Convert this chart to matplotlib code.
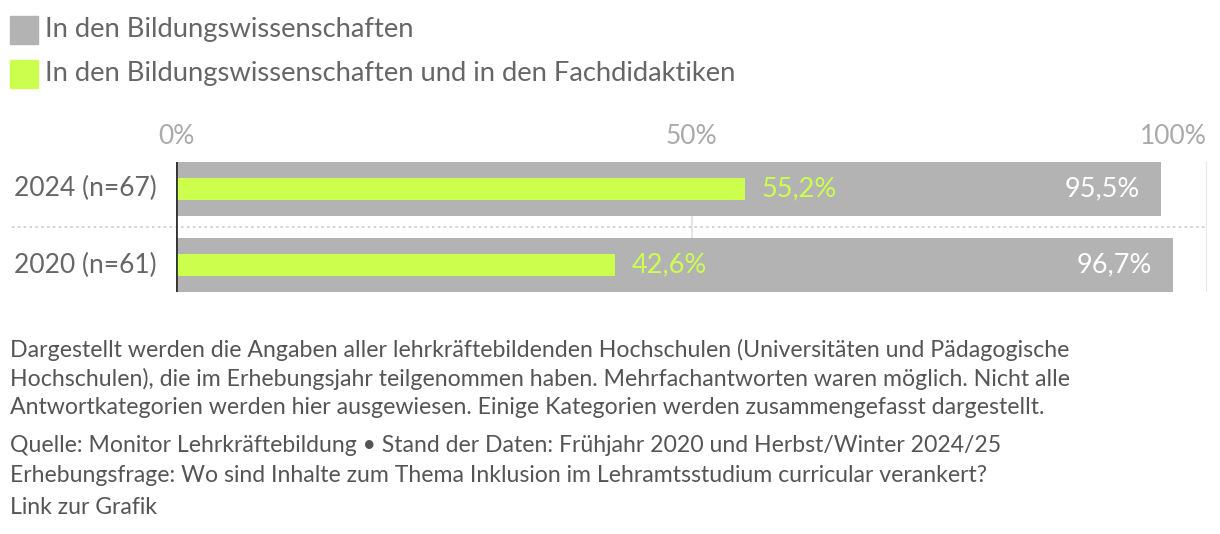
import matplotlib
matplotlib.use("Agg")
import matplotlib.pyplot as plt
import matplotlib.transforms as mtransforms
from matplotlib.patches import Rectangle

plt.rcParams['font.family'] = ['Lato', 'DejaVu Sans']

categories = ["2024 (n=67)", "2020 (n=61)"]
bild = [95.5, 96.7]
bild_fach = [55.2, 42.6]
bild_labels = ["95,5%", "96,7%"]
fach_labels = ["55,2%", "42,6%"]
ticks = [0, 50, 100]
tick_labels = ["0%", "50%", "100%"]
legend_labels = ["In den Bildungswissenschaften",
                 "In den Bildungswissenschaften und in den Fachdidaktiken"]
footnote = ["Dargestellt werden die Angaben aller lehrkräftebildenden Hochschulen (Universitäten und Pädagogische",
            "Hochschulen), die im Erhebungsjahr teilgenommen haben. Mehrfachantworten waren möglich. Nicht alle",
            "Antwortkategorien werden hier ausgewiesen. Einige Kategorien werden zusammengefasst dargestellt."]
source = ["Quelle: Monitor Lehrkräftebildung • Stand der Daten: Frühjahr 2020 und Herbst/Winter 2024/25",
          "Erhebungsfrage: Wo sind Inhalte zum Thema Inklusion im Lehramtsstudium curricular verankert?",
          "Link zur Grafik"]

GREY = "#b3b3b3"
GREEN = "#ccff4d"
TEXT = "#666666"

W, H = 1220, 534
fig = plt.figure(figsize=(W / 100, H / 100), dpi=100)

def fx(px):
    return px / W

def fy(py):
    return 1 - py / H

ax = fig.add_axes([fx(176), fy(292), fx(1207) - fx(176), (292 - 162) / H])
ypos = list(range(len(categories)))
ax.barh(ypos, bild, height=0.706, color=GREY, zorder=2)
ax.barh(ypos, bild_fach, height=0.288, color=GREEN, zorder=3)
ax.set_xlim(0, 100)
ax.set_ylim(1.353, -0.353)
ax.axis("off")

for t in ticks[1:]:
    ax.axvline(t, color="#e6e6e6", lw=1.5, zorder=1)
ax.axvline(0, color="#333333", lw=2, zorder=4)

trans = mtransforms.blended_transform_factory(ax.transAxes, ax.transData)
ax.plot([(12 - 176) / 1031, 1.0], [0.5, 0.5], transform=trans, color="#cccccc",
        lw=1.2, ls=(0, (1.5, 2)), clip_on=False, zorder=1)

for i, cat in enumerate(categories):
    ax.annotate(cat, (0, i), xytext=(-14, 0), textcoords="offset points",
                ha="right", va="center", fontsize=19, color=TEXT)
    ax.annotate(fach_labels[i], (bild_fach[i], i), xytext=(12, 0), textcoords="offset points",
                ha="left", va="center", fontsize=19.5, color=GREEN, zorder=5)
    ax.annotate(bild_labels[i], (bild[i], i), xytext=(-15, 0), textcoords="offset points",
                ha="right", va="center", fontsize=19.5, color="white", zorder=5)

ttrans = mtransforms.blended_transform_factory(ax.transData, fig.transFigure)
for t, lab in zip(ticks, tick_labels):
    ha = "center" if t < 100 else "right"
    ax.text(t, fy(136), lab, transform=ttrans, ha=ha, va="center",
            fontsize=19, color="#aaaaaa")

# legend
for j, (lab, col) in enumerate(zip(legend_labels, [GREY, GREEN])):
    top = 16 + j * 44
    fig.patches.append(Rectangle((fx(10), fy(top + 28)), fx(28), 28 / H,
                                 transform=fig.transFigure, color=col))
    fig.text(fx(45), fy(top + 14), lab, ha="left", va="center", fontsize=19.7, color=TEXT)

for k, line in enumerate(footnote):
    fig.text(fx(10), fy(350 + 29 * k), line, ha="left", va="center", fontsize=16.7, color="#555555")
for k, line in enumerate(source):
    fig.text(fx(10), fy(445 + 31 * k), line, ha="left", va="center", fontsize=16.6, color="#555555")

fig.savefig("out.png", dpi=100)
